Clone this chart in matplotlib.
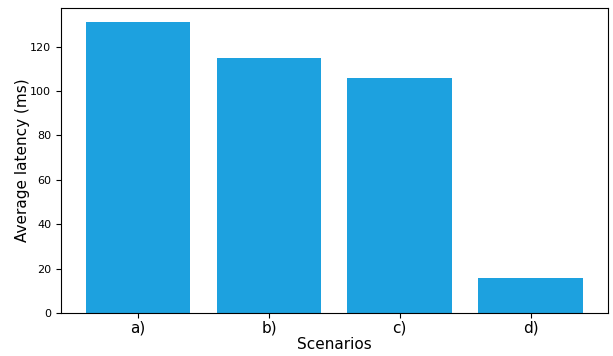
import matplotlib
matplotlib.use("Agg")
import matplotlib.pyplot as plt

scenarios = ["a)", "b)", "c)", "d)"]
latency = [131, 115, 106, 15.8]

fig = plt.figure(figsize=(6.13, 3.56), dpi=100)
ax = fig.add_axes([0.0995, 0.121, 0.892, 0.857])
ax.bar(scenarios, latency, color="#1da1df", width=0.8)
ax.set_xlabel("Scenarios", fontsize=11, labelpad=1)
ax.set_ylabel("Average latency (ms)", fontsize=11, labelpad=0)
ax.tick_params(axis="x", labelsize=11, pad=2)
ax.tick_params(axis="y", labelsize=8)
fig.savefig("out.png", dpi=100)
